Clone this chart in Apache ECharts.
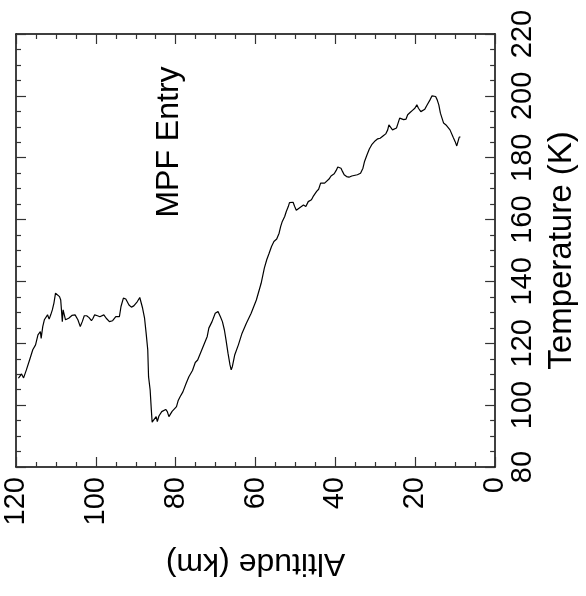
<!DOCTYPE html>
<html>
<head>
<meta charset="utf-8">
<script src="https://cdn.jsdelivr.net/npm/echarts@6/dist/echarts.min.js"></script>
<style>html,body{margin:0;padding:0;background:#fff;}#c{width:586px;height:596px;}</style>
</head>
<body>
<div id="c"></div>
<script>
const altitudeKm = [119.4,119.0,118.6,118.1,117.4,116.6,115.8,115.1,114.5,113.9,113.7,113.3,112.9,112.5,112.1,111.7,111.3,110.9,110.5,110.1,109.6,109.1,108.8,108.4,108.2,107.9,107.6,107.2,106.8,106.0,105.2,104.5,103.9,103.7,103.4,102.9,102.3,101.7,101.1,100.7,100.3,99.6,99.0,98.6,98.0,97.4,96.6,95.8,95.0,94.5,94.1,93.7,93.1,92.5,91.7,91.1,90.5,89.6,89.0,88.7,88.3,87.8,87.4,87.0,86.8,86.5,86.4,86.1,85.9,85.4,84.9,84.6,84.2,83.9,83.5,83.1,82.5,82.1,81.7,81.3,80.9,80.4,79.8,79.4,78.9,78.2,77.4,76.7,75.8,75.1,74.5,73.3,72.1,71.7,70.9,70.1,69.4,68.8,68.3,67.8,67.4,66.9,66.4,66.1,65.8,65.2,64.3,63.4,62.3,61.1,59.8,58.6,57.8,57.2,56.6,56.0,55.4,54.7,54.1,53.7,53.3,52.7,52.3,51.8,51.5,51.1,50.6,50.2,49.8,49.2,48.7,48.0,47.4,46.8,46.4,46.0,45.6,45.1,44.7,44.2,43.7,43.3,42.7,42.3,41.6,41.1,40.7,40.3,39.8,39.4,39.0,38.6,38.2,37.8,37.2,36.6,35.9,35.4,34.5,33.7,33.1,32.7,32.1,31.5,30.9,30.0,29.4,28.8,28.4,28.0,27.4,26.9,26.6,26.2,25.7,25.3,24.7,24.3,23.9,23.4,22.9,22.3,21.9,21.3,20.7,20.1,19.6,19.2,18.6,18.2,17.6,17.0,16.3,15.8,15.4,14.9,14.5,14.1,13.7,13.3,12.9,12.3,11.8,11.3,10.9,10.5,10.0,9.6,9.2,9.0,8.7];
const temperatureK = [108.7,109.4,110.1,108.8,111.4,114.6,117.9,119.5,122.7,123.8,121.6,125.4,127.6,127.9,129.2,127.8,129.2,130.8,133.0,136.2,136.0,135.1,134.0,127.0,130.8,131.0,127.6,127.6,128.1,129.0,129.2,127.6,125.4,125.2,127.0,128.9,128.9,128.3,127.3,128.1,129.2,128.9,128.6,129.2,129.2,128.1,127.0,127.3,128.6,129.2,128.6,131.9,134.6,134.3,132.4,131.7,132.1,133.5,134.8,134.3,131.4,128.1,123.2,117.9,109.2,109.7,104.9,98.4,94.5,94.7,96.3,94.7,96.5,96.8,97.9,98.4,98.6,97.9,96.3,96.8,98.0,97.7,99.5,101.4,102.7,104.3,107.0,109.2,111.2,113.8,114.6,118.4,122.2,124.9,127.0,129.7,130.3,128.6,127.0,124.3,121.1,116.8,113.0,111.4,112.5,116.3,119.5,123.2,126.5,129.7,134.0,139.4,144.3,147.0,149.1,151.3,152.9,153.7,155.6,157.8,159.4,161.0,162.6,164.2,165.5,165.8,165.6,164.2,163.0,163.6,164.0,164.7,164.2,165.8,166.4,166.4,167.4,167.6,169.1,169.8,171.8,172.3,171.8,172.3,173.1,174.1,173.9,174.8,175.9,177.0,177.2,176.6,175.5,174.5,173.9,173.7,174.1,174.5,174.5,175.0,176.6,178.8,180.9,182.8,184.2,185.5,186.1,186.3,185.8,187.1,187.7,189.0,190.6,190.6,189.0,188.5,189.6,191.2,192.8,192.5,192.3,192.5,193.9,194.6,195.3,196.0,197.1,196.0,194.9,194.6,195.7,197.1,198.7,200.0,200.4,199.8,198.7,197.1,194.4,192.8,191.2,190.6,190.1,189.0,188.5,186.6,185.2,183.8,184.2,186.6,186.8];
const altitudeTicks = [0, 120, 20];
const temperatureTicks = [80, 220, 20];
const titleText = 'MPF Entry';

const FONT = "'Liberation Sans', Arial, Helvetica, sans-serif";
const points = altitudeKm.map((a, i) => [a, temperatureK[i]]);

const lineCol = '#000';
function xAx(pos, labels) {
  return {
    type: 'value', position: pos, inverse: true,
    min: altitudeTicks[0], max: altitudeTicks[1], interval: altitudeTicks[2],
    axisLine: { show: true, onZero: false, lineStyle: { color: lineCol, width: 1.5 } },
    axisTick: { show: true, inside: true, length: 10, lineStyle: { color: '#333', width: 1.2 } },
    minorTick: { show: true, splitNumber: 4, length: 5, lineStyle: { color: '#333', width: 1.2 } },
    splitLine: { show: false }, minorSplitLine: { show: false },
    axisLabel: labels ? { show: true, rotate: 90, margin: 10, fontSize: 29, color: '#000', fontFamily: FONT, showMinLabel: true, showMaxLabel: true } : { show: false },
    name: labels ? 'Altitude (km)' : '',
    nameLocation: 'middle', nameRotate: 180, nameGap: 80,
    nameTextStyle: { fontSize: 32, color: '#000', fontFamily: FONT }
  };
}
function yAx(pos, labels) {
  return {
    type: 'value', position: pos,
    min: temperatureTicks[0], max: temperatureTicks[1], interval: temperatureTicks[2],
    axisLine: { show: true, onZero: false, lineStyle: { color: lineCol, width: 1.5 } },
    axisTick: { show: true, inside: true, length: 10, lineStyle: { color: '#333', width: 1.2 } },
    minorTick: { show: true, splitNumber: 4, length: 5, lineStyle: { color: '#333', width: 1.2 } },
    splitLine: { show: false }, minorSplitLine: { show: false },
    axisLabel: labels ? { show: true, rotate: 90, margin: 13, fontSize: 29, color: '#000', fontFamily: FONT, showMinLabel: true, showMaxLabel: true } : { show: false },
    name: labels ? 'Temperature (K)' : '',
    nameLocation: 'middle', nameGap: 47,
    nameTextStyle: { fontSize: 33, color: '#000', fontFamily: FONT }
  };
}

const chart = echarts.init(document.getElementById('c'), null, { renderer: 'canvas' });
chart.setOption({
  backgroundColor: '#fff',
  animation: false,
  grid: { left: 16, right: 80, top: 34, bottom: 129, containLabel: false },
  xAxis: [xAx('bottom', true), xAx('top', false)],
  yAxis: [yAx('right', true), yAx('left', false)],
  series: [{
    type: 'line', xAxisIndex: 0, yAxisIndex: 0,
    data: points, showSymbol: false, symbol: 'none', smooth: false,
    lineStyle: { color: '#000', width: 1.2 }
  }],
  graphic: [{
    type: 'text', x: 169, y: 142, rotation: Math.PI / 2,
    style: { text: titleText, font: '32px ' + FONT, fill: '#000', align: 'center', verticalAlign: 'middle' }
  }]
});
</script>
</body>
</html>
